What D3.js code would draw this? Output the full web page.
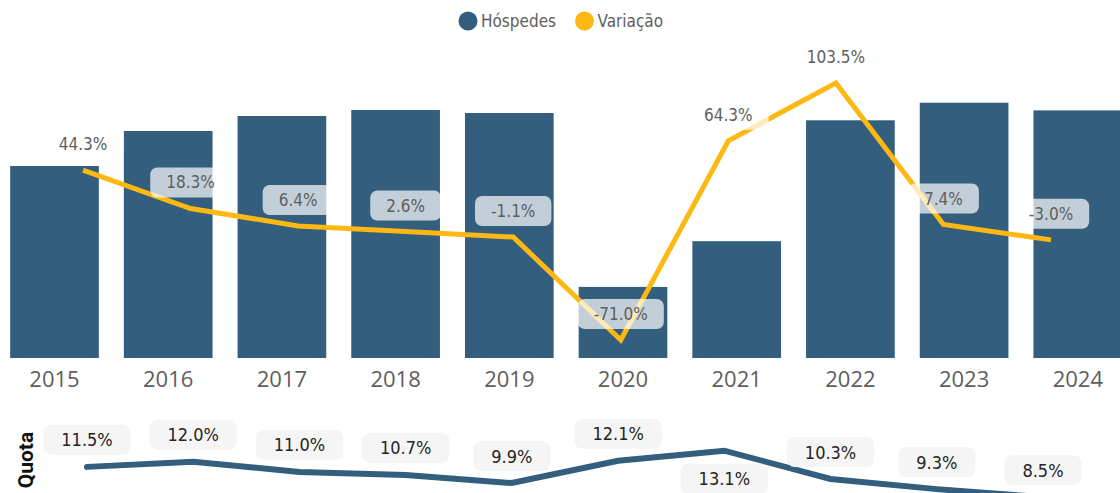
<!DOCTYPE html>
<html>
<head>
<meta charset="utf-8">
<script src="https://cdn.jsdelivr.net/npm/d3@7"></script>
<style>
  html, body { margin: 0; padding: 0; background: #fff; }
  svg { display: block; overflow: hidden; }
</style>
</head>
<body>
<div id="chart"></div>
<script>
// valores
const years = ['2015', '2016', '2017', '2018', '2019', '2020', '2021', '2022', '2023', '2024'];
const hospedes = [1920, 2270, 2420, 2480, 2450, 711, 1168, 2377, 2553, 2476]; // milhares (estimado)
const variacao = [44.3, 18.3, 6.4, 2.6, -1.1, -71.0, 64.3, 103.5, 7.4, -3.0];
const quota = [11.5, 12.0, 11.0, 10.7, 9.9, 12.1, 13.1, 10.3, 9.3, 8.5];
const legendItems = ['Hóspedes', 'Variação'];

const width = 1120, height = 493;
const blue = '#335e7d', gold = '#fdb813';
const dinFont = '"DejaVu Sans Condensed", "DejaVu Sans", sans-serif';

const svg = d3.select('#chart').append('svg')
    .attr('width', width)
    .attr('height', height);

// scales
const x = d3.scaleBand().domain(years)
    .range([-2.35, 1134.65])
    .paddingInner(0.22)
    .paddingOuter(0.11);
const xLine = d3.scalePoint().domain(years).range([83, 1051]);
const xQuota = d3.scalePoint().domain(years).range([87, 1043]);

const yBar = d3.scaleLinear().domain([0, 3000]).range([358, 58]);
const yVar = d3.scaleLinear().domain([-71, 103.5]).range([340, 83]);
const yQuota = d3.scaleLinear().domain([8.5, 13.1]).range([497.2, 450.7]);

const fmt = d => d.toFixed(1) + '%';

// legend
const legend = svg.append('g').attr('font-family', dinFont).attr('font-size', 17).attr('fill', '#605e5c');
const legendColors = [blue, gold];
const legendX = [468, 584.5];
legendItems.forEach((name, i) => {
    legend.append('circle').attr('cx', legendX[i]).attr('cy', 21).attr('r', 9.5).attr('fill', legendColors[i]);
    legend.append('text').attr('x', legendX[i] + 13).attr('y', 27).text(name);
});

// bars
svg.append('g').selectAll('rect')
    .data(years)
    .join('rect')
    .attr('x', d => x(d))
    .attr('width', x.bandwidth())
    .attr('y', (d, i) => yBar(hospedes[i]))
    .attr('height', (d, i) => yBar(0) - yBar(hospedes[i]))
    .attr('fill', blue);

// x axis
const xAxis = svg.append('g')
    .attr('transform', `translate(0,${yBar(0)})`)
    .call(d3.axisBottom(x).tickSize(0).tickPadding(13));
xAxis.select('.domain').remove();
xAxis.selectAll('text')
    .attr('font-family', '"Open Sans", sans-serif')
    .attr('font-size', 22)
    .attr('fill', '#605e5c');

// variation line
const varLine = d3.line()
    .x((d, i) => xLine(years[i]))
    .y(d => yVar(d));
svg.append('path')
    .datum(variacao)
    .attr('d', varLine)
    .attr('fill', 'none')
    .attr('stroke', gold)
    .attr('stroke-width', 5)
    .attr('stroke-linejoin', 'miter');

// variation labels (white translucent box on top of the line)
const varLabels = svg.append('g').attr('font-family', dinFont).attr('font-size', 17);
variacao.forEach((v, i) => {
    const cx = xLine(years[i]);
    const cy = yVar(v) - 26;
    const g = varLabels.append('g');
    const t = g.append('text')
        .attr('x', cx).attr('y', cy)
        .attr('text-anchor', 'middle')
        .attr('dominant-baseline', 'central')
        .attr('fill', '#605e5c')
        .text(fmt(v));
    const b = t.node().getBBox();
    g.insert('rect', 'text')
        .attr('x', cx - b.width / 2 - 16)
        .attr('y', cy - 15)
        .attr('width', b.width + 32)
        .attr('height', 30)
        .attr('rx', 7)
        .attr('fill', '#fff')
        .attr('fill-opacity', 0.7);
});

// quota title
svg.append('text')
    .attr('transform', 'translate(33,460) rotate(-90)')
    .attr('text-anchor', 'middle')
    .attr('font-family', 'Roboto, sans-serif')
    .attr('font-weight', 'bold')
    .attr('font-size', 21)
    .attr('fill', '#111')
    .text('Quota');

// quota line
const qLine = d3.line()
    .x((d, i) => xQuota(years[i]))
    .y(d => yQuota(d));
svg.append('path')
    .datum(quota)
    .attr('d', qLine)
    .attr('fill', 'none')
    .attr('stroke', blue)
    .attr('stroke-width', 6)
    .attr('stroke-linecap', 'round');

// quota labels
const qLabels = svg.append('g').attr('font-family', dinFont).attr('font-size', 18);
quota.forEach((v, i) => {
    const cx = xQuota(years[i]);
    let cy = yQuota(v) - 27;
    if (cy - 15 < 415) cy = yQuota(v) + 28; // no room above
    const g = qLabels.append('g');
    const t = g.append('text')
        .attr('x', cx).attr('y', cy)
        .attr('text-anchor', 'middle')
        .attr('dominant-baseline', 'central')
        .attr('fill', '#252423')
        .text(fmt(v));
    const b = t.node().getBBox();
    g.insert('rect', 'text')
        .attr('x', cx - b.width / 2 - 18)
        .attr('y', cy - 15)
        .attr('width', b.width + 36)
        .attr('height', 30)
        .attr('rx', 8)
        .attr('fill', '#f5f5f5');
});
</script>
</body>
</html>
